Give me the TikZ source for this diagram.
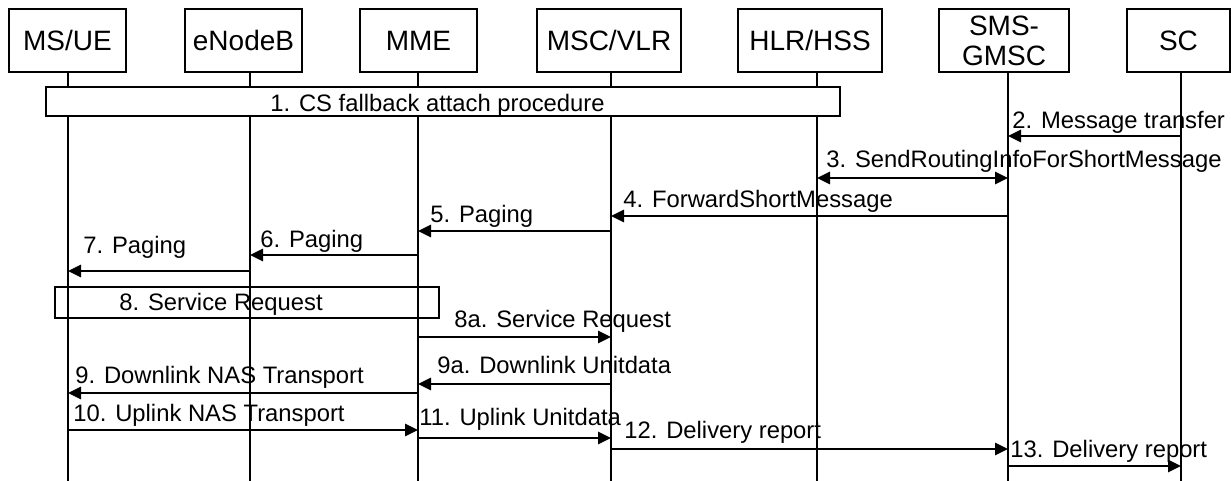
\documentclass[tikz,border=0pt]{standalone}
\usepackage{fontspec}
\setmainfont{Liberation Sans}
\usetikzlibrary{arrows.meta}
\tikzset{
  hdr/.style={draw, line width=0.7pt, minimum height=31.5pt, inner sep=0pt, align=center, font=\fontsize{14}{15}\selectfont},
  life/.style={line width=0.8pt},
  msg/.style={line width=1.4pt, -{Triangle[length=6.5pt,width=6pt]}},
  lbl/.style={anchor=base west, inner sep=0pt, font=\fontsize{11.9}{13}\selectfont},
  proc/.style={draw, line width=0.7pt, inner sep=0pt}
}
\begin{document}
\begin{tikzpicture}[x=0.5pt,y=-0.5pt]
\useasboundingbox (0,0) rectangle (1231,481);
% Kopfzeile
\node[hdr, minimum width=58.5pt] (ue) at (67.5,40.5) {MS/UE};
\node[hdr, minimum width=58.5pt] (enb) at (243.5,40.5) {eNodeB};
\node[hdr, minimum width=58.5pt] (mme) at (418.5,40.5) {MME};
\node[hdr, minimum width=72pt] (vlr) at (609,40.5) {MSC/VLR};
\node[hdr, minimum width=72pt] (hss) at (810,40.5) {HLR/HSS};
\node[hdr, minimum width=65pt] (gmsc) at (1004,40.5) {SMS-\\GMSC};
\node[hdr, minimum width=51.5pt] (sc) at (1178.5,40.5) {SC};
% Lebenslinien
\coordinate (lue) at (68,72);
\coordinate (lenb) at (250,72);
\coordinate (lmme) at (418,72);
\coordinate (lvlr) at (611,72);
\coordinate (lhss) at (817,72);
\coordinate (lgmsc) at (1008,72);
\coordinate (lsc) at (1181,72);
\coordinate (unten) at (0,481);
\foreach \n in {lue,lenb,lmme,lvlr,lhss,lgmsc,lsc}
  \draw[life] (\n) -- (\n |- unten);
% Prozeduren
\node[proc, fill=white, minimum width=397pt, minimum height=14.5pt] (csfb) at (443,101.5) {};
\node[lbl] (csfbt) at (270,112) {1. CS fallback attach procedure};
\node[proc, minimum width=192pt, minimum height=15.5pt] (sr) at (247,302.5) {};
\node[lbl] (srt) at (119,310) {8. Service Request};
% Nachrichten
\coordinate (y2) at (0,136);
\coordinate (y3) at (0,178);
\coordinate (y4) at (0,216);
\coordinate (y5) at (0,231);
\coordinate (y6) at (0,255);
\coordinate (y7) at (0,271);
\coordinate (y8a) at (0,337);
\coordinate (y9a) at (0,384);
\coordinate (y9) at (0,393);
\coordinate (y10) at (0,430);
\coordinate (y11) at (0,438);
\coordinate (y12) at (0,449);
\coordinate (y13) at (0,466);
\draw[msg] (lsc |- y2) -- (lgmsc |- y2);
\node[lbl] (m2) at (1012,128) {2. Message transfer};
\draw[msg, {Triangle[length=6.5pt,width=6pt]}-{Triangle[length=6.5pt,width=6pt]}] (lhss |- y3) -- (lgmsc |- y3);
\node[lbl] (m3) at (826,167) {3. SendRoutingInfoForShortMessage};
\draw[msg] (lgmsc |- y4) -- (lvlr |- y4);
\node[lbl] (m4) at (623,207) {4. ForwardShortMessage};
\draw[msg] (lvlr |- y5) -- (lmme |- y5);
\node[lbl] (m5) at (430,222) {5. Paging};
\draw[msg] (lmme |- y6) -- (lenb |- y6);
\node[lbl] (m6) at (260,247) {6. Paging};
\draw[msg] (lenb |- y7) -- (lue |- y7);
\node[lbl] (m7) at (83,253) {7. Paging};
\draw[msg] (lmme |- y8a) -- (lvlr |- y8a);
\node[lbl] (m8a) at (454,327) {8a. Service Request};
\draw[msg] (lvlr |- y9a) -- (lmme |- y9a);
\node[lbl] (m9a) at (437,373) {9a. Downlink Unitdata};
\draw[msg] (lmme |- y9) -- (lue |- y9);
\node[lbl] (m9) at (75,383) {9. Downlink NAS Transport};
\draw[msg] (lue |- y10) -- (lmme |- y10);
\node[lbl] (m10) at (73,421) {10. Uplink NAS Transport};
\draw[msg] (lmme |- y11) -- (lvlr |- y11);
\node[lbl] (m11) at (419,425) {11. Uplink Unitdata};
\draw[msg] (lvlr |- y12) -- (lgmsc |- y12);
\node[lbl] (m12) at (624,438) {12. Delivery report};
\draw[msg] (lgmsc |- y13) -- (lsc |- y13);
\node[lbl] (m13) at (1010,457) {13. Delivery report};
\end{tikzpicture}
\end{document}
